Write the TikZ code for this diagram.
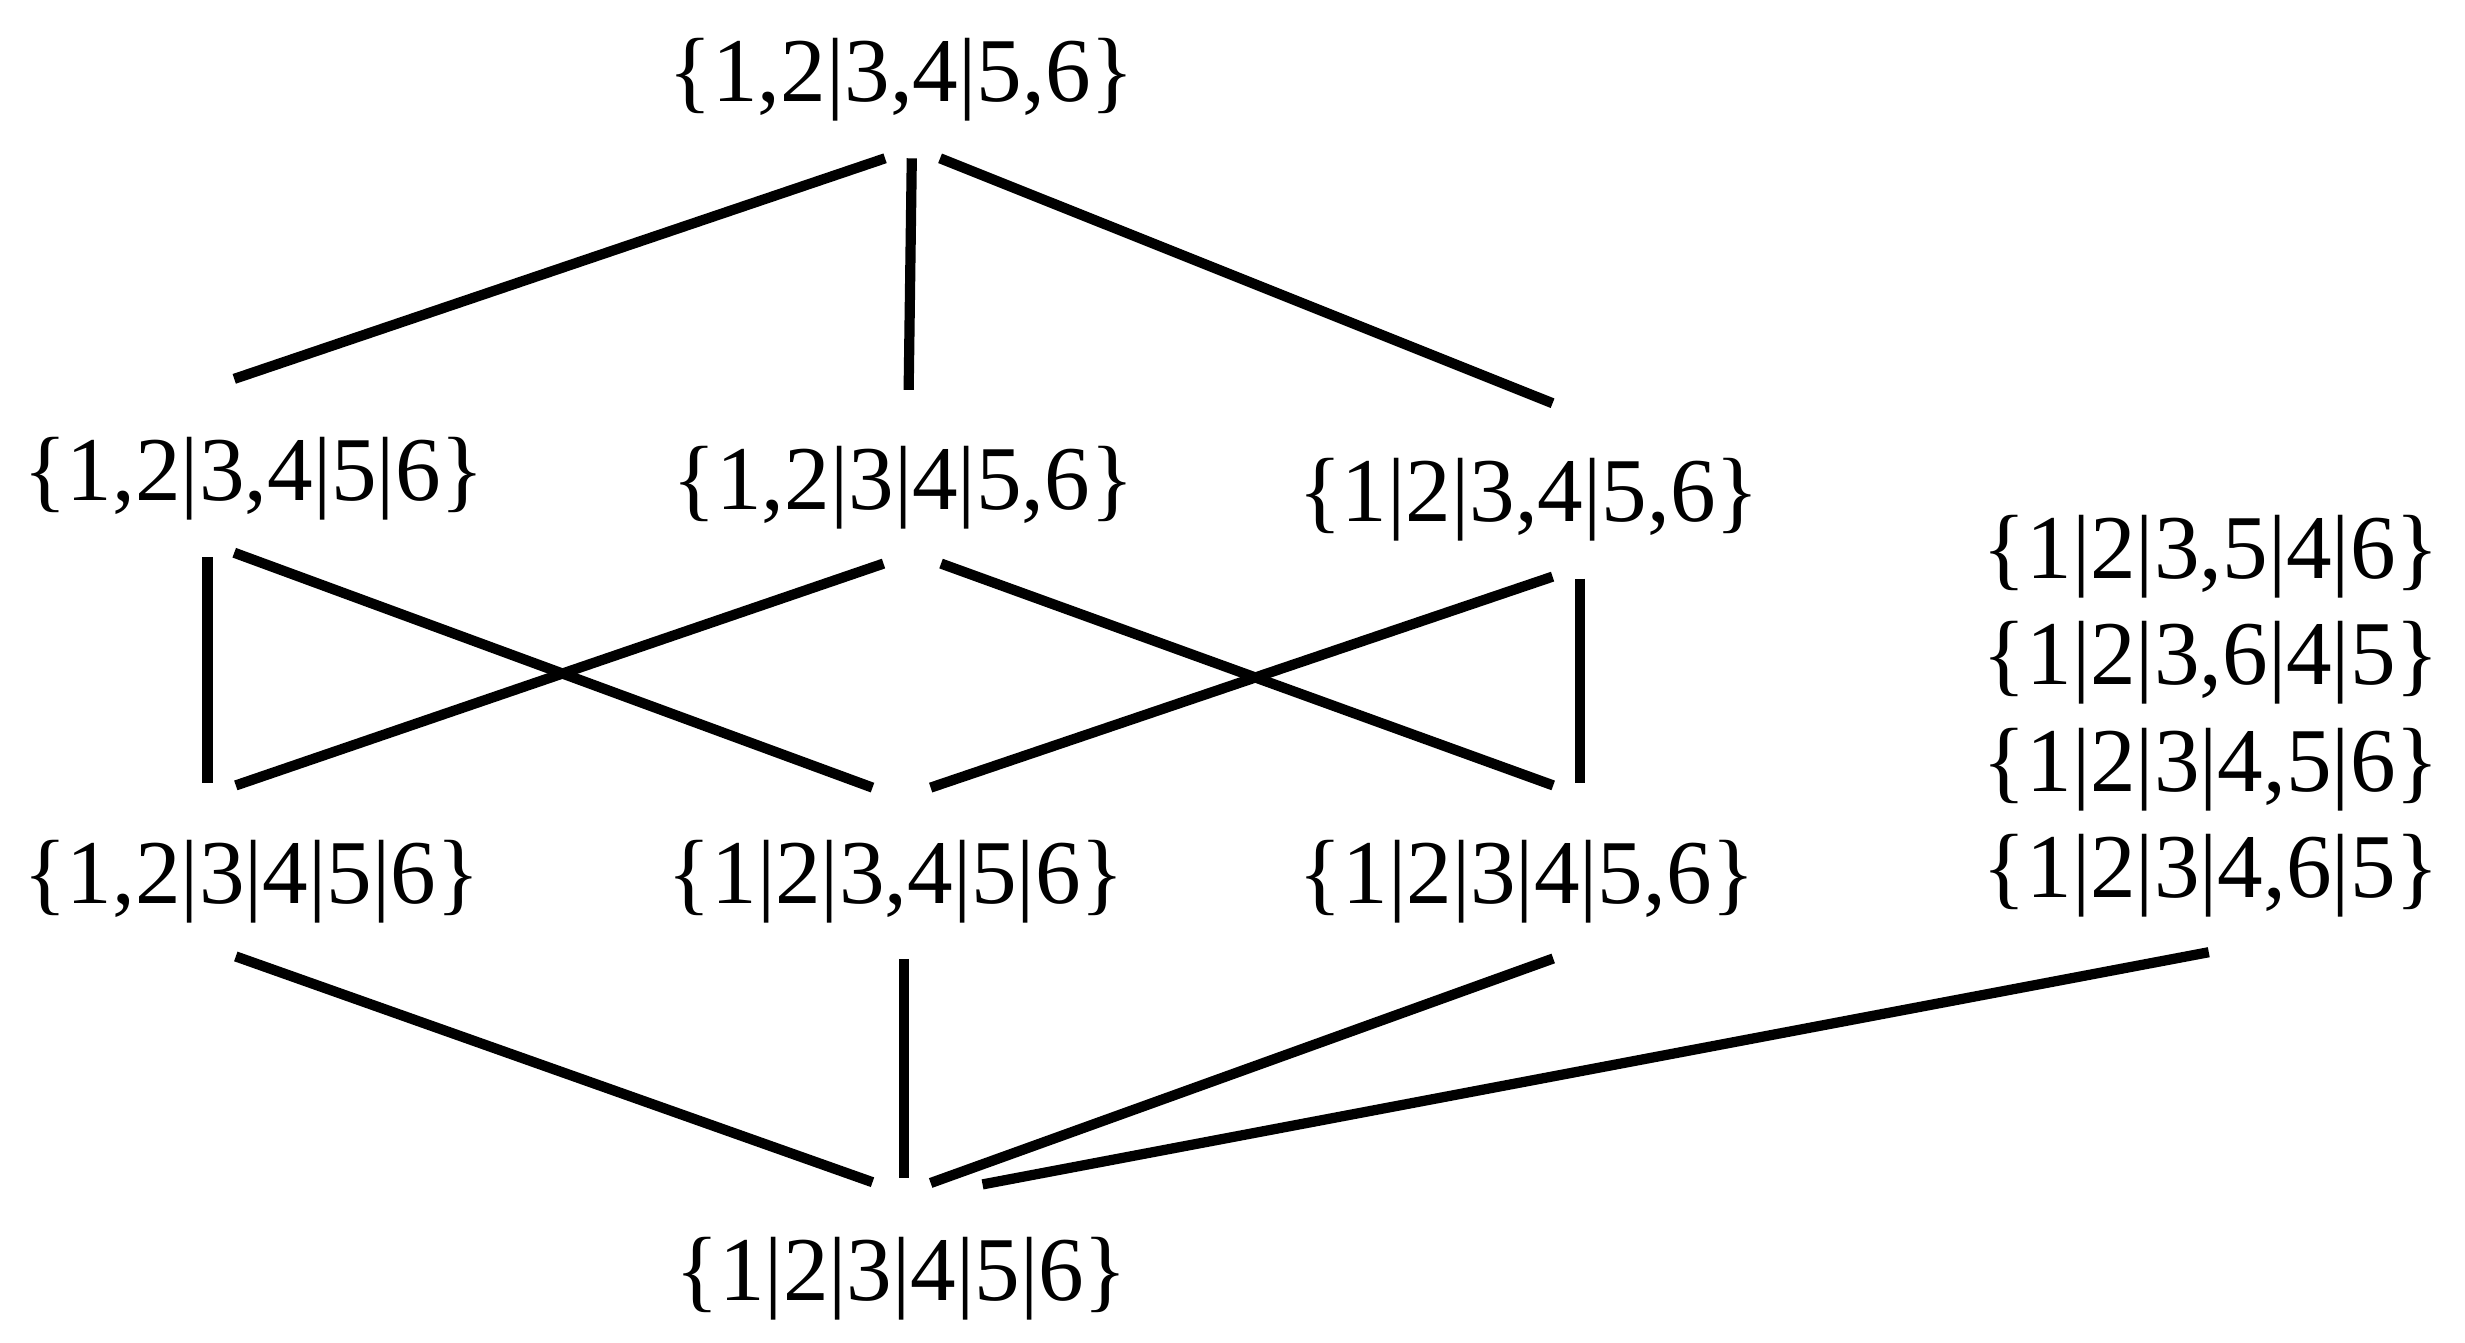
\documentclass[tikz,border=0pt]{standalone}
\usepackage{fontspec}
\setmainfont{Liberation Serif}
\usetikzlibrary{calc}
\begin{document}
\begin{tikzpicture}[x=1pt,y=-1pt,
  lbl/.style={inner sep=0pt,anchor=base,font=\fontsize{58}{68}\selectfont},
  edge/.style={line width=6.5pt,line cap=butt}]
\useasboundingbox (0,0) rectangle (1568,853.7);
\node[lbl] (top) at (573.5,64.8) {\{1,2|3,4|5,6\}};
\node[lbl] (a1) at (161.5,318.5) {\{1,2|3,4|5|6\}};
\node[lbl] (a2) at (574.5,324) {\{1,2|3|4|5,6\}};
\node[lbl] (a3) at (972.5,332) {\{1|2|3,4|5,6\}};
\node[lbl] (b1) at (160,575) {\{1,2|3|4|5|6\}};
\node[lbl] (b2) at (570,575) {\{1|2|3,4|5|6\}};
\node[lbl] (b3) at (971.5,575) {\{1|2|3|4|5,6\}};
\node[lbl] (s1) at (1406.5,368) {\{1|2|3,5|4|6\}};
\node[lbl] (s2) at (1406.5,435.7) {\{1|2|3,6|4|5\}};
\node[lbl] (s3) at (1406.5,503.4) {\{1|2|3|4,5|6\}};
\node[lbl] (s4) at (1406.5,571) {\{1|2|3|4,6|5\}};
\node[lbl] (bot) at (573.5,827) {\{1|2|3|4|5|6\}};
\draw[edge] ($(top.base)+(-10.5,35.9)$) -- ($(a1.base)+(-12.5,-77.5)$);
\draw[edge] ($(top.base)+(6.5,35.9)$) -- ($(a2.base)+(3.5,-76)$);
\draw[edge] ($(top.base)+(24.5,35.9)$) -- ($(a3.base)+(15.1,-75.5)$);
\draw[edge] ($(a1.base)+(-29.5,35.9)$) -- ($(b1.base)+(-28,-76.7)$);
\draw[edge] ($(a1.base)+(-12.5,33.1)$) -- ($(b2.base)+(-15,-74)$);
\draw[edge] ($(a2.base)+(-12.5,34.5)$) -- ($(b1.base)+(-10,-75.4)$);
\draw[edge] ($(a2.base)+(24.1,34.5)$) -- ($(b3.base)+(16.5,-75.4)$);
\draw[edge] ($(a3.base)+(15.1,34.8)$) -- ($(b2.base)+(22,-74)$);
\draw[edge] ($(a3.base)+(32.5,36)$) -- ($(b3.base)+(33.5,-76.7)$);
\draw[edge] ($(b1.base)+(-10,33.4)$) -- ($(bot.base)+(-18.5,-75)$);
\draw[edge] ($(b2.base)+(5,35)$) -- ($(bot.base)+(1.5,-77.7)$);
\draw[edge] ($(b3.base)+(16.5,34.7)$) -- ($(bot.base)+(18.5,-74.5)$);
\draw[edge] ($(s4.base)+(-1.5,34.7)$) -- ($(bot.base)+(51.5,-73.6)$);
\end{tikzpicture}
\end{document}
